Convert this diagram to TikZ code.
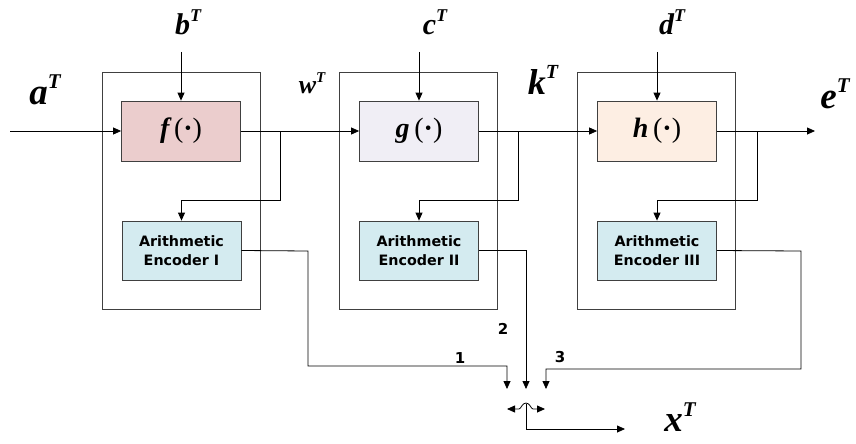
\documentclass[tikz,border=0pt]{standalone}
\usepackage{fontspec}
\setmainfont{Liberation Serif}
\newfontfamily\encfont{DejaVu Sans}
\usetikzlibrary{arrows.meta}
\definecolor{fcol}{HTML}{EBCDCD}
\definecolor{gcol}{HTML}{F0EEF5}
\definecolor{hcol}{HTML}{FDEEE3}
\definecolor{ecol}{HTML}{D4EBF0}
\definecolor{edge}{HTML}{404040}
\newcommand\symT[3]{{\fontsize{#2}{#2}\selectfont\bfseries\itshape #1\raisebox{0.42em}{\fontsize{#3}{#3}\selectfont T}}}
\newcommand\fun[1]{{\fontsize{28}{28}\selectfont{\bfseries\itshape #1}\,(\textbf{\textperiodcentered})}}
\begin{document}
\begin{tikzpicture}[x=1pt,y=-1pt,
  outerbox/.style={draw=edge,line width=0.8pt,minimum width=158pt,minimum height=237pt,inner sep=0pt},
  funbox/.style={draw=edge,line width=0.8pt,minimum width=119pt,minimum height=60pt,inner sep=0pt},
  encbox/.style={draw=edge,line width=0.8pt,fill=ecol,minimum width=119pt,minimum height=59pt,inner sep=0pt,
     align=center,font=\encfont\bfseries\fontsize{14.3}{18.5}\selectfont},
  conn/.style={line width=0.8pt,black},
  arr/.style={conn,-{Triangle[length=8pt,width=7pt]}},
  numlbl/.style={font=\encfont\bfseries\fontsize{15}{15}\selectfont,inner sep=0pt}]
\useasboundingbox (0,0) rectangle (856,444);
% outer boxes
\node[outerbox] (O1) at (181,190.5) {};
\node[outerbox] (O2) at (418.5,190.5) {};
\node[outerbox] (O3) at (656.5,190.5) {};
% function boxes
\node[funbox,fill=fcol] (F) at (181,131) {\fun{f}};
\node[funbox,fill=gcol] (G) at (419,131) {\fun{g}};
\node[funbox,fill=hcol] (H) at (657,131) {\fun{h}};
% encoders
\node[encbox] (E1) at (181.5,250.5) {Arithmetic\\Encoder I};
\node[encbox] (E2) at (419,250.5) {Arithmetic\\Encoder II};
\node[encbox] (E3) at (657,250.5) {Arithmetic\\Encoder III};
% labels
\node (la) at (45,90) {\symT{a}{37}{21}};
\node (lb) at (188,22) {\symT{b}{30}{18}};
\node (lc) at (435,22) {\symT{c}{30}{18}};
\node (ld) at (672,22) {\symT{d}{30}{18}};
\node (lw) at (312,83) {\symT{w}{26}{15}};
\node (lk) at (543,80) {\symT{k}{36}{20}};
\node (le) at (835,94) {\symT{e}{37}{21}};
\node (lx) at (680,417) {\symT{x}{37}{21}};
\node[numlbl] (n1) at (460,358) {1};
\node[numlbl] (n2) at (503,329) {2};
\node[numlbl] (n3) at (560,357) {3};
% coordinates
\coordinate (ain) at (10,131);
\coordinate (bin) at (181,52);
\coordinate (cin) at (419,52);
\coordinate (din) at (657,52);
\coordinate (eout) at (815,131);
\coordinate (br1) at (280,131);
\coordinate (br2) at (518,131);
\coordinate (br3) at (757,131);
\coordinate (t1) at (507,389);
\coordinate (t2) at (526,389);
\coordinate (t3) at (546,389);
\coordinate (sw) at (526,404);
\coordinate (xout) at (625,429);
% main chain
\draw[arr] (ain) -- (F.west);
\draw[arr] (bin) -- (F.north);
\draw[arr] (cin) -- (G.north);
\draw[arr] (din) -- (H.north);
\draw[arr] (F.east) -- (G.west);
\draw[arr] (G.east) -- (H.west);
\draw[arr] (H.east) -- (eout);
% branches to encoders
\draw[arr] (br1) -- (280,200) -| (E1.north);
\draw[arr] (br2) -- (518,200) -| (E2.north);
\draw[arr] (br3) -- (757,200) -| (E3.north);
% encoder outputs
\draw[arr] (E1.east) -- (308,251) -- (308,366) -| (t1);
\draw[arr] (E2.east) -| (t2);
\draw[arr] (E3.east) -- (801,251) -- (801,369) -| (t3);
% switch
\draw[conn,{Triangle[length=8pt,width=7pt]}-{Triangle[length=8pt,width=7pt]}]
  (507,409) -- (519,409) .. controls (521,409) and (522,403) .. (526,403)
  .. controls (530,403) and (531,409) .. (533,409) -- (545,409);
\draw[arr] (sw) |- (xout);
\end{tikzpicture}
\end{document}
